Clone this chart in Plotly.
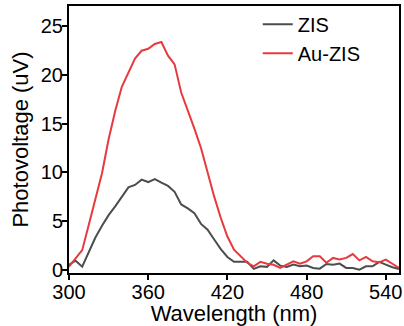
import plotly.graph_objects as go

wavelength = list(range(300, 551, 5))

zis = [0.5, 0.92, 0.3, 1.8, 3.3, 4.5, 5.6, 6.5, 7.5, 8.45,
       8.7, 9.25, 9.0, 9.3, 8.95, 8.6, 8.0, 6.7, 6.3, 5.8,
       4.7, 4.1, 3.1, 2.1, 1.3, 0.8, 0.8, 0.8, 0.07, 0.34,
       0.28, 0.95, 0.41, 0.28, 0.51, 0.34, 0.41, 0.17, 0.1, 0.58,
       0.51, 0.62, 0.17, 0.17, 0.0, 0.34, 0.34, 0.79, 0.51, 0.24,
       0.07]

au_zis = [0.3, 1.1, 2.0, 4.6, 7.2, 9.9, 13.4, 16.3, 18.8, 20.2,
          21.7, 22.5, 22.7, 23.2, 23.4, 22.0, 21.1, 18.2, 16.4, 14.5,
          12.5, 9.9, 7.5, 5.3, 3.4, 2.05, 1.37, 0.7, 0.34, 0.8,
          0.6, 0.5, 0.17, 0.5, 0.85, 0.6, 0.85, 1.37, 1.37, 0.7,
          1.2, 1.03, 1.2, 1.6, 0.95, 1.3, 0.85, 0.75, 1.03, 0.6,
          0.17]

x_ticks = [300, 360, 420, 480, 540]
y_ticks = [0, 5, 10, 15, 20, 25]

FONT = "Liberation Sans, Arial"

fig = go.Figure()
fig.add_trace(go.Scatter(x=wavelength, y=zis, mode="lines", name="ZIS",
                         line=dict(color="#4d4d4d", width=2)))
fig.add_trace(go.Scatter(x=wavelength, y=au_zis, mode="lines", name="Au-ZIS",
                         line=dict(color="#e8393e", width=2)))

axis_common = dict(showline=True, linecolor="black", linewidth=2, mirror=True,
                   ticks="outside", ticklen=5, tickwidth=2, tickcolor="black",
                   showgrid=False, zeroline=False,
                   tickfont=dict(family=FONT, size=20, color="black"))

fig.update_xaxes(range=[300, 550], tickvals=x_ticks, ticklabelstandoff=-5,
                 title=dict(text="Wavelength (nm)", standoff=2,
                            font=dict(family=FONT, size=22, color="black")),
                 **axis_common)
fig.update_yaxes(range=[-0.35, 27.1], tickvals=y_ticks, ticklabelstandoff=-5,
                 title=dict(text="Photovoltage (uV)", standoff=6,
                            font=dict(family=FONT, size=22, color="black")),
                 **axis_common)

fig.update_layout(
    width=404, height=326,
    margin=dict(l=69, r=3, t=6, b=53),
    plot_bgcolor="white", paper_bgcolor="white",
    legend=dict(x=0.572, y=1.005, xanchor="left", yanchor="top",
                bgcolor="rgba(0,0,0,0)",
                font=dict(family=FONT, size=20, color="black"),
                tracegroupgap=0),
)

fig.write_html("out.html", config={"displayModeBar": False},
               post_script="document.body.style.margin='0';")
